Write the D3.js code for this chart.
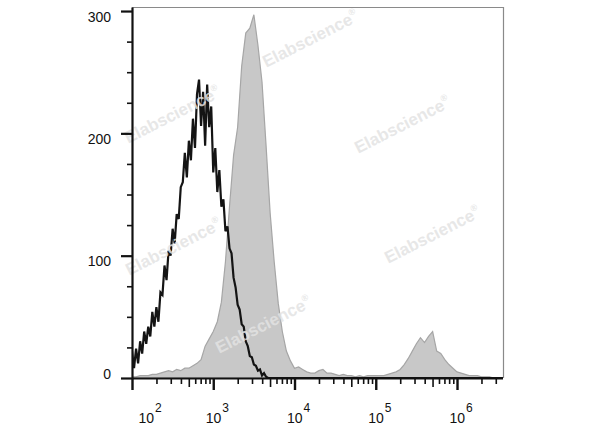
<!DOCTYPE html>
<html><head><meta charset="utf-8">
<script src="https://cdn.jsdelivr.net/npm/d3@7"></script>
<style>
body{margin:0;background:#fff}
svg{display:block;font-family:"Liberation Sans",Arial,sans-serif}
</style>
</head><body>
<svg id="c" width="600" height="427"></svg>
<script>
// ---- data ----
// histogram bins start at log10 = 2.0
const binStartLog = 2.0;
// gray (stained) histogram, bin width 0.05 decades
const grayStep = 0.05;
const grayCounts = [1,1,2,2,2,3,3,4,5,6,5,7,6,8,8,10,12,15,26,32,
  38,46,62,95,140,182,205,255,282,286,297,272,242,190,135,95,61,38,22,14,
  8,9,7,5,4,4,6,7,4,4,3,2,3,2,2,1,2,1,2,2,
  2,2,2,3,4,5,7,11,16,22,28,33,29,34,38,22,20,15,11,8,
  5,4,3,2,2,2,1,1,1,0,0,0];
// black (control) histogram, bin width 0.025 decades
const blackStep = 0.025;
const blackCounts = [22,8,24,12,30,20,38,28,42,34,54,42,58,46,70,68,92,80,104,100,
  122,110,134,130,156,160,184,164,194,178,212,188,232,244,206,234,190,240,205,222,
  168,188,152,170,140,146,120,124,106,102,82,74,60,56,44,42,30,26,18,17,
  11,10,6,7,2,4,1,0];
const yTicks = [0,100,200,300];
const yMinorTicks = [25,50,75,125,150,175,225,250,275];
const xTickExponents = [2,3,4,5,6];
const watermarkText = "Elabscience";

// ---- layout ----
const L = {left:132, right:503, top:7, bottom:378, maxLog:6.566, yMax:303.3};
const wmPos = [[175,120],[313,44],[405,130],[435,240],[176,252],[266,330]];

const svg = d3.select("#c");
const x = d3.scaleLog().domain([1e2, Math.pow(10, L.maxLog)]).range([L.left, L.right]);
const y = d3.scaleLinear().domain([0, L.yMax]).range([L.bottom, L.top]);

svg.append("defs").append("clipPath").attr("id","clip")
  .append("rect").attr("x",L.left).attr("y",L.top).attr("width",L.right-L.left).attr("height",L.bottom-L.top);

// frame (top + right)
svg.append("path").attr("d",`M${L.left},${L.top+0.5}H${L.right+0.5}V${L.bottom}`)
  .attr("fill","none").attr("stroke","#8a8a8a").attr("stroke-width",1.2);

const plot = svg.append("g").attr("clip-path","url(#clip)");

const grayPts = grayCounts.map((c,i)=>[Math.pow(10, binStartLog + i*grayStep), c]);
const area = d3.area().x(d=>x(d[0])).y0(y(0)).y1(d=>y(d[1]));
plot.append("path").datum(grayPts).attr("d",area)
  .attr("fill","#c8c8c8").attr("stroke","#a6a6a6").attr("stroke-width",1.2);

// watermarks
wmPos.forEach(p=>{
  const t = svg.append("text").attr("transform",`translate(${p[0]},${p[1]}) rotate(-27)`)
    .attr("text-anchor","middle").attr("font-size",17).attr("font-weight","bold")
    .attr("fill","#e3e3e3").attr("fill-opacity",0.85).text(watermarkText);
  t.append("tspan").attr("font-size",9).attr("dy",-8).text("®");
});

const blackPts = blackCounts.map((c,i)=>[Math.pow(10, binStartLog + i*blackStep), c]);
blackPts.push([Math.pow(10, L.maxLog), 0]);
const line = d3.line().x(d=>x(d[0])).y(d=>y(d[1]));
plot.append("path").datum(blackPts).attr("d",line)
  .attr("fill","none").attr("stroke","#141414").attr("stroke-width",2.2).attr("stroke-linejoin","miter");

// y axis
const yAx = svg.append("g").attr("transform",`translate(${L.left},0)`)
  .call(d3.axisLeft(y).tickValues(yTicks).tickSize(11).tickSizeOuter(0).tickFormat(d3.format("d")));
yAx.select(".domain").attr("stroke","#111").attr("stroke-width",2.2);
yAx.selectAll(".tick line").attr("stroke","#111").attr("stroke-width",2.2);
yAx.selectAll(".tick text").attr("font-size",14).attr("fill","#111").attr("x",-21)
  .attr("dy",d=>d===0?"0em":"0.72em");
svg.append("g").attr("transform",`translate(${L.left},0)`)
  .call(d3.axisLeft(y).tickValues(yMinorTicks).tickSize(5).tickFormat(""))
  .call(g=>g.select(".domain").remove())
  .selectAll(".tick line").attr("stroke","#111").attr("stroke-width",1.6);

// x axis
const decades = xTickExponents.map(e=>Math.pow(10,e));
const minorX = [];
xTickExponents.forEach(e=>{ for(let k=2;k<=9;k++){ const v=k*Math.pow(10,e); if(v<=Math.pow(10,L.maxLog)) minorX.push(v);} });
const xAx = svg.append("g").attr("transform",`translate(0,${L.bottom})`)
  .call(d3.axisBottom(x).tickValues(decades).tickSize(12).tickSizeOuter(0).tickFormat(""));
xAx.select(".domain").attr("stroke","#111").attr("stroke-width",2.2).attr("d",`M${L.left},0.5H${L.right}`);
xAx.selectAll(".tick line").attr("stroke","#111").attr("stroke-width",2.4);
svg.append("g").attr("transform",`translate(0,${L.bottom})`)
  .call(d3.axisBottom(x).tickValues(minorX).tickSize(6).tickFormat(""))
  .call(g=>g.select(".domain").remove())
  .selectAll(".tick line").attr("stroke","#111").attr("stroke-width",1.6)
  .attr("y2",d=>Math.round(d/Math.pow(10,Math.floor(Math.log10(d)+1e-9)))===5?9:6);
xAx.selectAll(".tick").each(function(d,i){
  const g = d3.select(this);
  const t = g.append("text").attr("x", i===0?6:-8).attr("y",45).attr("fill","#111")
    .attr("font-size",14).attr("text-anchor","start");
  t.append("tspan").text("10");
  t.append("tspan").attr("font-size",12).attr("dy",-11).attr("dx",1).text(xTickExponents[i]);
});
</script>
</body></html>
